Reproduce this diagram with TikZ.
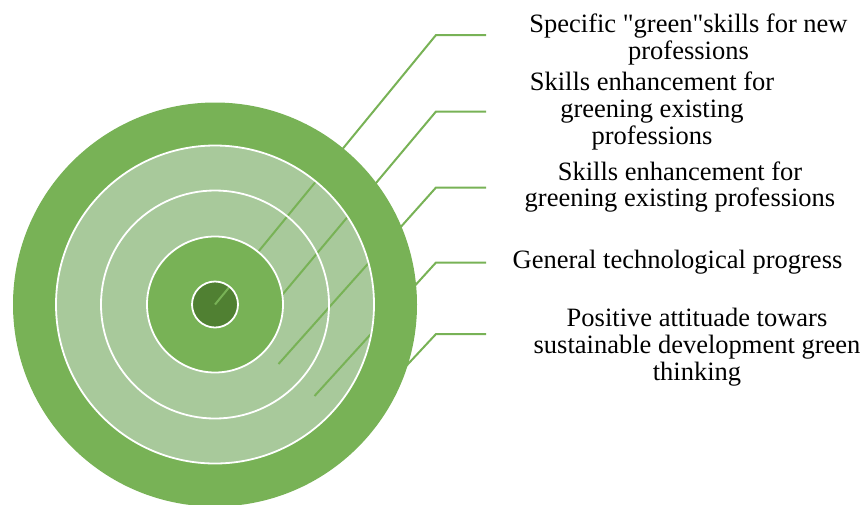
\documentclass[tikz,border=0pt]{standalone}
\usepackage{fontspec}
\setmainfont{Liberation Serif}[Ligatures=TeXOff]
\definecolor{gOuter}{RGB}{120,178,86}
\definecolor{gLight}{RGB}{168,201,155}
\definecolor{gDark}{RGB}{80,128,50}
\begin{document}
\begin{tikzpicture}[x=1pt,y=-1pt,
  ringline/.style={draw=white,line width=1.8pt},
  leader/.style={draw=gOuter,line width=2pt},
  lbl/.style={align=center,inner sep=0pt,anchor=base,font=\fontsize{26.5}{26.7}\selectfont}]
\useasboundingbox (0,0) rectangle (866,504);
\coordinate (c) at (215,304.5);
% rings
\begin{scope}
\clip (0,0) rectangle (866,504);
\fill[gOuter] (c) circle[radius=202pt];
\end{scope}
\fill[gLight] (c) circle[radius=159pt];
\fill[gLight] (c) circle[radius=114pt];
\fill[gOuter] (c) circle[radius=68pt];
\fill[gDark] (c) circle[radius=23pt];
% leader coordinates
\coordinate (s1) at (215,304.5);
\coordinate (s2) at (248.5,335);
\coordinate (s3) at (278.5,364);
\coordinate (s4) at (314.5,396);
\coordinate (s5) at (347.5,429);
\coordinate (b1) at (436,35);
\coordinate (b2) at (436,111.5);
\coordinate (b3) at (436,187.5);
\coordinate (b4) at (436,262.5);
\coordinate (b5) at (436,334);
\coordinate (e1) at (486,35);
\coordinate (e2) at (486,111.5);
\coordinate (e3) at (486,187.5);
\coordinate (e4) at (486,262.5);
\coordinate (e5) at (486,334);
\foreach \i in {1,...,5} {\draw[leader] (s\i) -- (b\i) -- (e\i);}
% white ring outlines
\draw[ringline] (c) circle[radius=159pt];
\draw[ringline] (c) circle[radius=114pt];
\draw[ringline] (c) circle[radius=68pt];
\draw[ringline] (c) circle[radius=23pt];
% labels (base anchor = baseline of the last line)
\node[lbl] (l1) at (688.5,59) {Specific "green"skills for new\\professions};
\node[lbl] (l2) at (652,144) {Skills enhancement for\\greening existing\\professions};
\node[lbl] (l3) at (680,206.7) {Skills enhancement for\\greening existing professions};
\node[lbl] (l4) at (677.5,268) {General technological progress};
\node[lbl] (l5) at (697,380) {Positive attituade towars\\sustainable development green\\thinking};
\end{tikzpicture}
\end{document}
